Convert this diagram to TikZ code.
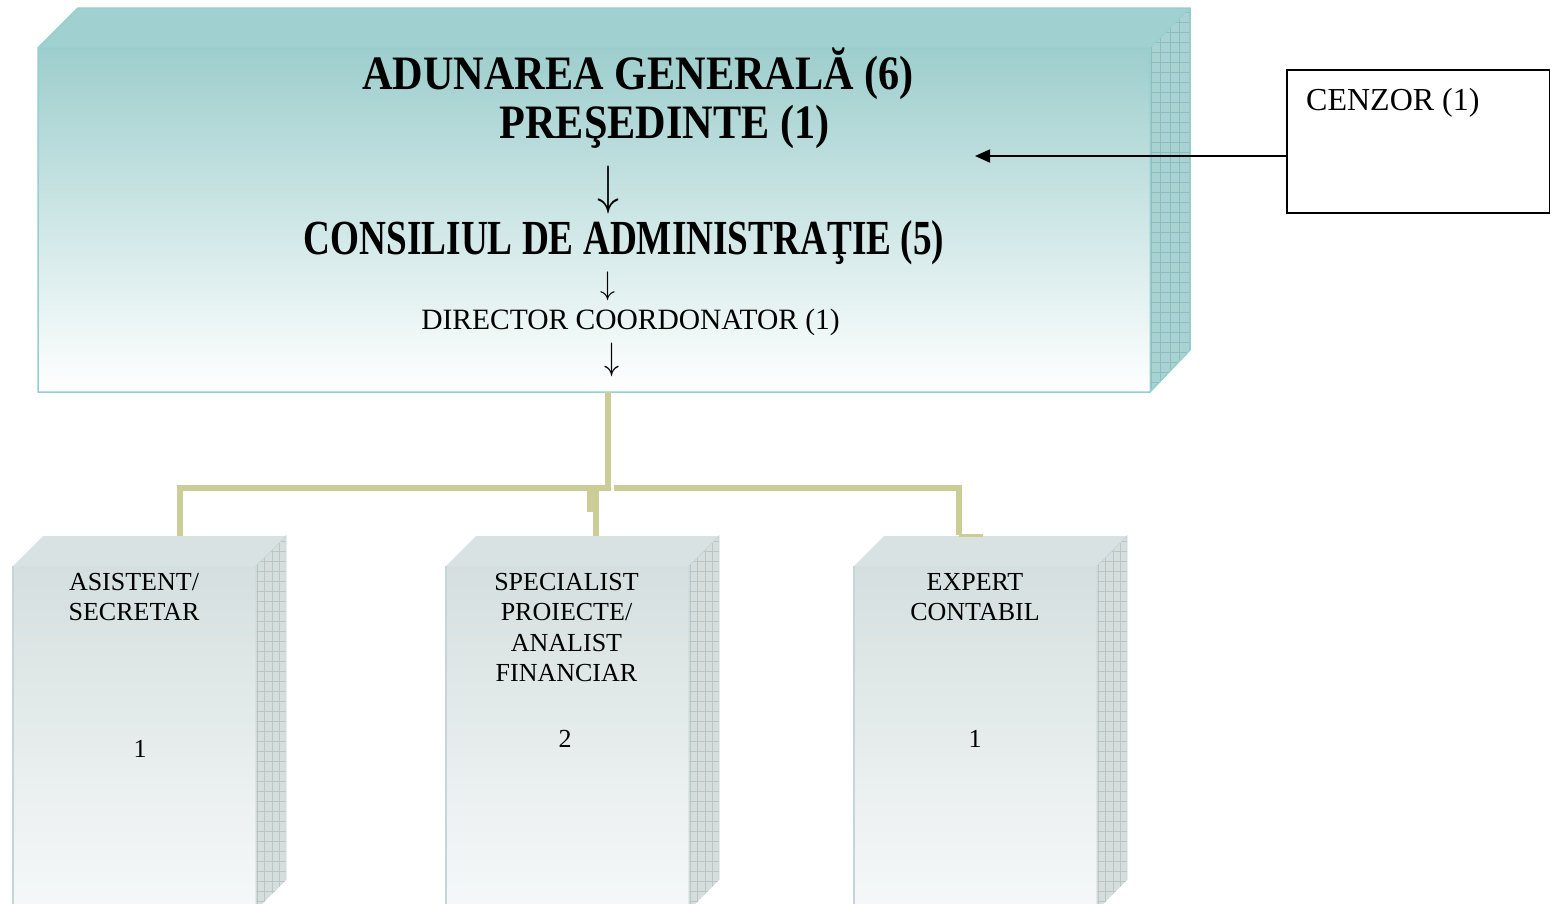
\documentclass[tikz,border=0pt]{standalone}
\usepackage{fontspec}
\usepackage{graphicx}
\setmainfont{Liberation Serif}
\usetikzlibrary{arrows.meta}
\definecolor{tealfront}{HTML}{9DCECD}
\definecolor{tealtop}{HTML}{A0D0CF}
\definecolor{tealside}{HTML}{A8D3D2}
\definecolor{tealgrid}{HTML}{8DBDBC}
\definecolor{tealedge}{HTML}{96CFCF}
\definecolor{graytop}{HTML}{D9E2E2}
\definecolor{grayfront}{HTML}{D5DFDF}
\definecolor{grayside}{HTML}{D6DDDD}
\definecolor{graygrid}{HTML}{BAC6C6}
\definecolor{grayedge}{HTML}{C6D6D8}
\definecolor{olive}{HTML}{CCCC96}
\tikzset{
  conn/.style={olive, line width=6pt},
  txt/.style={inner sep=0pt, text=black},
  boxtxt/.style={inner sep=0pt, align=center, font=\fontsize{26}{30.5}\selectfont},
}
\newcommand{\lowbox}[2]{%
  % #1 = left x of front face, #2 = name
  \shade[top color=grayfront, bottom color=white] (#1,566) rectangle (#1+243,1000);
  \draw[grayedge, line width=1.5pt] (#1,1000) -- (#1,566);
  \fill[graytop] (#1,566) -- (#1+30,536) -- (#1+273,536) -- (#1+243,566) -- cycle;
  \begin{scope}
    \clip (#1+243,566) -- (#1+273,536) -- (#1+273,880) -- (#1+243,910) -- cycle;
    \fill[grayside] (#1+240,530) rectangle (#1+280,920);
    \foreach \k in {0,...,4} {\draw[graygrid, line width=0.7pt] (#1+244+\k*7.5,530) -- (#1+244+\k*7.5,920);}
    \foreach \k in {0,...,39} {\draw[graygrid, line width=0.7pt] (#1+240,531+\k*10) -- (#1+280,531+\k*10);}
  \end{scope}
  \draw[grayedge, line width=0.8pt] (#1+243,566) -- (#1+273,536) -- (#1+273,880) (#1+243,566) -- (#1+243,910);
  \coordinate (#2) at (#1+121.5,566);
}
\begin{document}
\begin{tikzpicture}[x=1pt,y=-1pt]
\useasboundingbox (0,0) rectangle (1550,903);
\clip (0,0) rectangle (1550,903);
\fill[white] (0,0) rectangle (1550,903);

% ---------- top 3D box ----------
\shade[top color=tealfront, bottom color=white] (38,48) rectangle (1150,392);
\fill[tealtop] (38,48) -- (78,8) -- (1190,8) -- (1150,48) -- cycle;
\begin{scope}
  \clip (1150,48) -- (1190,8) -- (1190,350) -- (1150,392) -- cycle;
  \fill[tealside] (1145,0) rectangle (1195,400);
  \foreach \k in {0,...,4} {\draw[tealgrid, line width=0.7pt] (1151+\k*9.5,0) -- (1151+\k*9.5,400);}
  \foreach \k in {0,...,40} {\draw[tealgrid, line width=0.7pt] (1145,2+\k*10) -- (1195,2+\k*10);}
\end{scope}
\draw[tealedge, line width=1.5pt, line join=round]
  (38,392) -- (38,48) -- (78,8) -- (1190,8) -- (1190,350) -- (1150,392) -- cycle;
\draw[tealedge, line width=1pt] (38,48) -- (1150,48) -- (1190,8) (1150,48) -- (1150,392);

% ---------- texts of the top box ----------
\node[txt, anchor=base] (ag) at (638,89)
  {\fontsize{48}{50}\selectfont\bfseries\scalebox{0.88}[1]{ADUNAREA GENERALĂ (6)}};
\node[txt, anchor=base] (pres) at (664.5,138)
  {\fontsize{48}{50}\selectfont\bfseries\scalebox{0.88}[1]{PREŞEDINTE (1)}};
\node[txt, anchor=north] (ar1) at (608,166) {\resizebox*{22pt}{48pt}{$\downarrow$}};
\node[txt, anchor=base] (ca) at (624,254)
  {\fontsize{49}{50}\selectfont\bfseries\scalebox{0.76}[1]{CONSILIUL DE ADMINISTRAŢIE (5)}};
\node[txt, anchor=north] (ar2) at (608,272) {\resizebox*{15pt}{29pt}{$\downarrow$}};
\node[txt, anchor=base] (dc) at (630.5,329)
  {\fontsize{29.5}{32}\selectfont DIRECTOR COORDONATOR (1)};
\node[txt, anchor=north] (ar3) at (612,343) {\resizebox*{15pt}{34pt}{$\downarrow$}};

% ---------- CENZOR ----------
\node[draw=black, line width=2pt, minimum width=263pt, minimum height=143pt,
      anchor=north west, inner sep=0pt] (cenzor) at (1286,69) {};
\node[txt, anchor=base west] (cenzortxt) at (1306,110)
  {\fontsize{32}{34}\selectfont CENZOR (1)};
\coordinate (cz) at (1286,156);
\coordinate (czt) at (975,156);
\draw[black, line width=1.8pt, -{Triangle[length=15pt,width=13pt]}] (cz) -- (czt);

% ---------- lower boxes ----------
\lowbox{13}{b1top}
\lowbox{446}{b2top}
\lowbox{854}{b3top}

\node[boxtxt, anchor=north] (t1) at (134,573) {ASISTENT/\\SECRETAR};
\node[txt, anchor=base, font=\fontsize{26}{30}\selectfont] (n1) at (140,757) {1};
\node[boxtxt, anchor=north] (t2) at (566.5,573) {SPECIALIST\\PROIECTE/\\ANALIST\\FINANCIAR};
\node[txt, anchor=base, font=\fontsize{26}{30}\selectfont] (n2) at (565,747) {2};
\node[boxtxt, anchor=north] (t3) at (975,573) {EXPERT\\CONTABIL};
\node[txt, anchor=base, font=\fontsize{26}{30}\selectfont] (n3) at (975,747) {1};

% ---------- connectors ----------
\coordinate (agb) at (608,392);
\coordinate (jn) at (608,488);
\coordinate (jr) at (614,488);
\coordinate (b1) at (180,536);
\coordinate (b2a) at (596,512);
\coordinate (b2) at (596,536);
\coordinate (b3) at (959,535);
\coordinate (b3e) at (983,535);
\draw[conn] (agb) -- (jn) -| (b1);
\draw[conn] (jr) -| (b3);
\draw[olive, line width=3pt] (b3) -- (b3e);
\fill[olive] (587,485) rectangle (599,512);
\draw[conn] (b2a) -- (b2);
\end{tikzpicture}
\end{document}
